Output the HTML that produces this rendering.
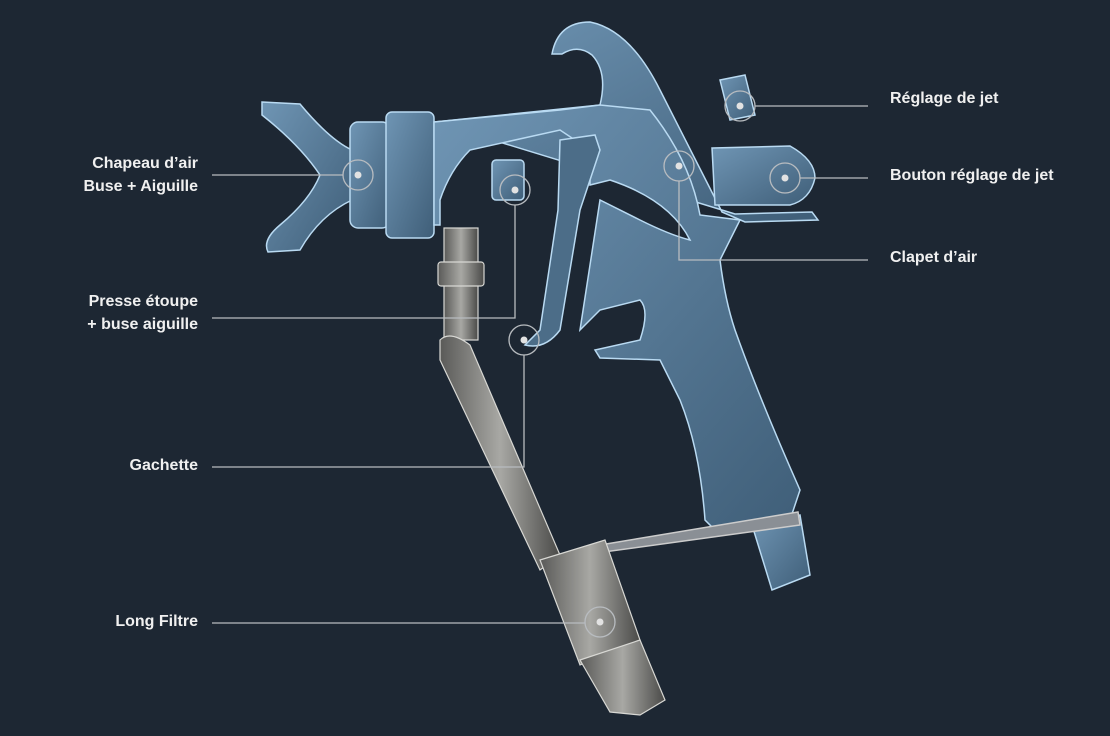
<!DOCTYPE html>
<html><head><meta charset="utf-8"><style>
html,body{margin:0;padding:0;background:#1d2733;}
body{width:1110px;height:736px;overflow:hidden;position:relative;font-family:"Liberation Sans",sans-serif;}
.l{position:absolute;color:#f0f0f0;font-weight:bold;font-size:16px;line-height:23px;}
.r{text-align:right;right:912px;}
</style></head><body>
<svg width="1110" height="736" style="position:absolute;left:0;top:0">
<defs>
<linearGradient id="b" x1="0" y1="0" x2="1" y2="1"><stop offset="0" stop-color="#6f95b4"/><stop offset="1" stop-color="#3f5e78"/></linearGradient>
<linearGradient id="s" x1="0" y1="0" x2="1" y2="0"><stop offset="0" stop-color="#5a5a58"/><stop offset=".5" stop-color="#a8a8a4"/><stop offset="1" stop-color="#4a4a48"/></linearGradient>
</defs>
<g stroke="#b9daf2" stroke-width="1.5" fill="url(#b)">
<path d="M262 102 L300 104 Q330 140 352 150 L352 200 Q320 215 300 250 L268 252 Q262 240 280 225 Q310 200 320 175 Q300 145 262 115 Z"/>
<rect x="350" y="122" width="40" height="106" rx="8"/>
<rect x="386" y="112" width="48" height="126" rx="6"/>
<path d="M434 122 L600 105 Q608 72 592 55 Q578 44 562 54 L552 54 Q558 22 590 22 Q630 30 660 90 L722 212 L745 222 L818 220 L812 212 L735 214 Z"/>
<path d="M434 122 L560 110 L600 105 L650 110 Q690 160 700 215 L740 220 L720 260 Q725 300 735 330 Q760 400 800 490 L790 520 L720 535 L705 520 Q700 450 680 400 L660 360 L600 358 L595 350 L640 340 Q650 310 640 300 L600 310 L580 330 L600 200 L640 220 Q670 235 690 240 Q670 200 610 180 L590 185 L590 150 L560 130 L470 150 Q450 170 440 200 L440 225 L434 225 Z"/>
<path d="M720 80 L745 75 L755 115 L730 120 Z"/>
<path d="M712 148 L790 146 Q815 160 815 178 Q810 200 790 205 L715 205 Z"/>
<path d="M560 140 L595 135 L600 150 L580 210 L560 330 Q545 350 525 345 L540 330 L558 210 Z" fill="#4c6d88"/>
<rect x="492" y="160" width="32" height="40" rx="4"/>
<path d="M752 525 L800 515 L810 575 L772 590 Z"/>
<path d="M600 545 L798 512 L800 525 L604 552 Z" fill="#8a8f95" stroke="#ccc"/>
</g>
<g stroke="#d8d8d4" stroke-width="1.2" fill="url(#s)">
<rect x="444" y="228" width="34" height="112"/>
<rect x="438" y="262" width="46" height="24" rx="3"/>
<path d="M440 340 Q450 330 470 345 L560 555 L540 570 L440 360 Z"/>
<path d="M540 560 L605 540 L640 640 L580 665 Z"/>
<path d="M580 660 L640 640 L665 700 L640 715 L610 712 Z"/>
</g>
<g stroke="#b8bcc0" stroke-width="1.3" fill="none">
<line x1="212" y1="175" x2="343" y2="175"/><circle cx="358" cy="175" r="15"/>
<polyline points="212,318 515,318 515,205"/><circle cx="515" cy="190" r="15"/>
<polyline points="212,467 524,467 524,355"/><circle cx="524" cy="340" r="15"/>
<line x1="212" y1="623" x2="585" y2="623"/><circle cx="600" cy="622" r="15"/>
<line x1="755" y1="106" x2="868" y2="106"/><circle cx="740" cy="106" r="15"/>
<line x1="800" y1="178" x2="868" y2="178"/><circle cx="785" cy="178" r="15"/>
<polyline points="679,181 679,260 868,260"/><circle cx="679" cy="166" r="15"/>
</g>
<g fill="#e2e2e2">
<circle cx="358" cy="175" r="3.5"/><circle cx="515" cy="190" r="3.5"/><circle cx="524" cy="340" r="3.5"/><circle cx="600" cy="622" r="3.5"/><circle cx="740" cy="106" r="3.5"/><circle cx="785" cy="178" r="3.5"/><circle cx="679" cy="166" r="3.5"/>
</g>
</svg>
<div class="l r" style="top:152px">Chapeau d’air<br>Buse + Aiguille</div>
<div class="l r" style="top:290px">Presse étoupe<br>+ buse aiguille</div>
<div class="l r" style="top:454px">Gachette</div>
<div class="l r" style="top:610px">Long Filtre</div>
<div class="l" style="left:890px;top:87px">Réglage de jet</div>
<div class="l" style="left:890px;top:164px">Bouton réglage de jet</div>
<div class="l" style="left:890px;top:246px">Clapet d’air</div>
</body></html>
